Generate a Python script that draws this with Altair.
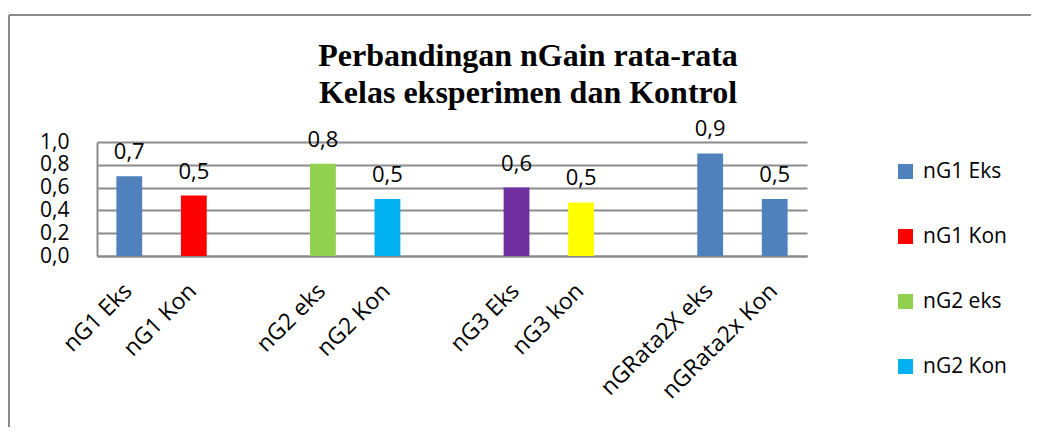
import altair as alt
import pandas as pd

# ---- data ----
categories = ["nG1 Eks", "nG1 Kon", "nG2 eks", "nG2 Kon", "nG3 Eks", "nG3 kon",
              "nGRata2X eks", "nGRata2x Kon"]
values = [0.70, 0.53, 0.81, 0.50, 0.60, 0.47, 0.90, 0.50]
colors = ["#4F81BD", "#FF0000", "#92D050", "#00B0F0", "#7030A0", "#FFFF00",
          "#4F81BD", "#4F81BD"]
x_slots = ["nG1 Eks", "nG1 Kon", "_gap1", "nG2 eks", "nG2 Kon", "_gap2",
           "nG3 Eks", "nG3 kon", "_gap3", "nGRata2X eks", "nGRata2x Kon"]
legend_items = ["nG1 Eks", "nG1 Kon", "nG2 eks", "nG2 Kon"]
y_ticks = [0.0, 0.2, 0.4, 0.6, 0.8, 1.0]
title_lines = ["Perbandingan nGain rata-rata", "Kelas eksperimen dan Kontrol"]

df = pd.DataFrame({"kategori": categories, "nilai": values})
frame_df = pd.DataFrame({"k": [0]})

GRID = "#8c8c8c"
FONT = "Open Sans"

x_enc = alt.X(
    "kategori:N",
    sort=x_slots,
    scale=alt.Scale(domain=x_slots, paddingInner=0.6, paddingOuter=0.3),
    axis=alt.Axis(
        title=None, labelAngle=-45, labelAlign="right", labelBaseline="middle",
        labelPadding=31, labelOffset=-1, ticks=False, tickSize=0, grid=False,
        domainColor=GRID, domainWidth=2, labelOverlap=False,
        labelExpr="indexof(datum.label, '_gap') == 0 ? '' : datum.label",
        labelFont=FONT, labelFontSize=23, labelColor="#000000",
    ),
)
y_enc = alt.Y(
    "nilai:Q",
    scale=alt.Scale(domain=[0, 1], nice=False, zero=True),
    axis=alt.Axis(
        title=None, values=y_ticks, tickCount=6, ticks=False, tickSize=0,
        labelPadding=28, labelOverlap=False, labelFlush=False,
        labelExpr="replace(format(datum.value, '.1f'), '.', ',')",
        gridColor=GRID, gridWidth=2, domainColor=GRID, domainWidth=2,
        labelFont=FONT, labelFontSize=21, labelColor="#000000",
    ),
)

bars = alt.Chart(df).mark_bar().encode(
    x=x_enc,
    y=y_enc,
    color=alt.Color(
        "kategori:N",
        scale=alt.Scale(domain=categories, range=colors),
        legend=alt.Legend(
            values=legend_items, orient="none", legendX=798, legendY=19,
            title=None, symbolType="square", symbolSize=225, symbolStrokeWidth=0,
            labelFont=FONT, labelFontSize=21, labelColor="#000000",
            labelOffset=7, rowPadding=43, padding=0,
        ),
    ),
)

labels = alt.Chart(df).transform_calculate(
    lab="replace(format(datum.nilai, '.1f'), '.', ',')"
).mark_text(dy=-17, baseline="alphabetic", font=FONT, fontSize=22, color="#000000").encode(
    x=x_enc, y=y_enc, text="lab:N"
)

frame_left = alt.Chart(frame_df).mark_rule(color="#8a8a8a", strokeWidth=2).encode(
    x=alt.value(-88), y=alt.value(-127), y2=alt.value(300)
)
frame_top = alt.Chart(frame_df).mark_rule(color="#8a8a8a", strokeWidth=2).encode(
    x=alt.value(-88), x2=alt.value(950), y=alt.value(-127)
)

chart = alt.layer(bars, labels, frame_left, frame_top).properties(
    width=710,
    height=114,
    title=alt.TitleParams(
        text=title_lines, font="Liberation Serif", fontSize=32, fontWeight="bold",
        lineHeight=37, anchor="middle", dx=76, offset=-96, color="#000000",
    ),
    autosize=alt.AutoSizeParams(type="none"),
    padding={"left": 89, "top": 134, "right": 224, "bottom": 171},
).configure_view(strokeWidth=0)

chart.save("out.html", embed_options={"renderer": "svg", "actions": False})
